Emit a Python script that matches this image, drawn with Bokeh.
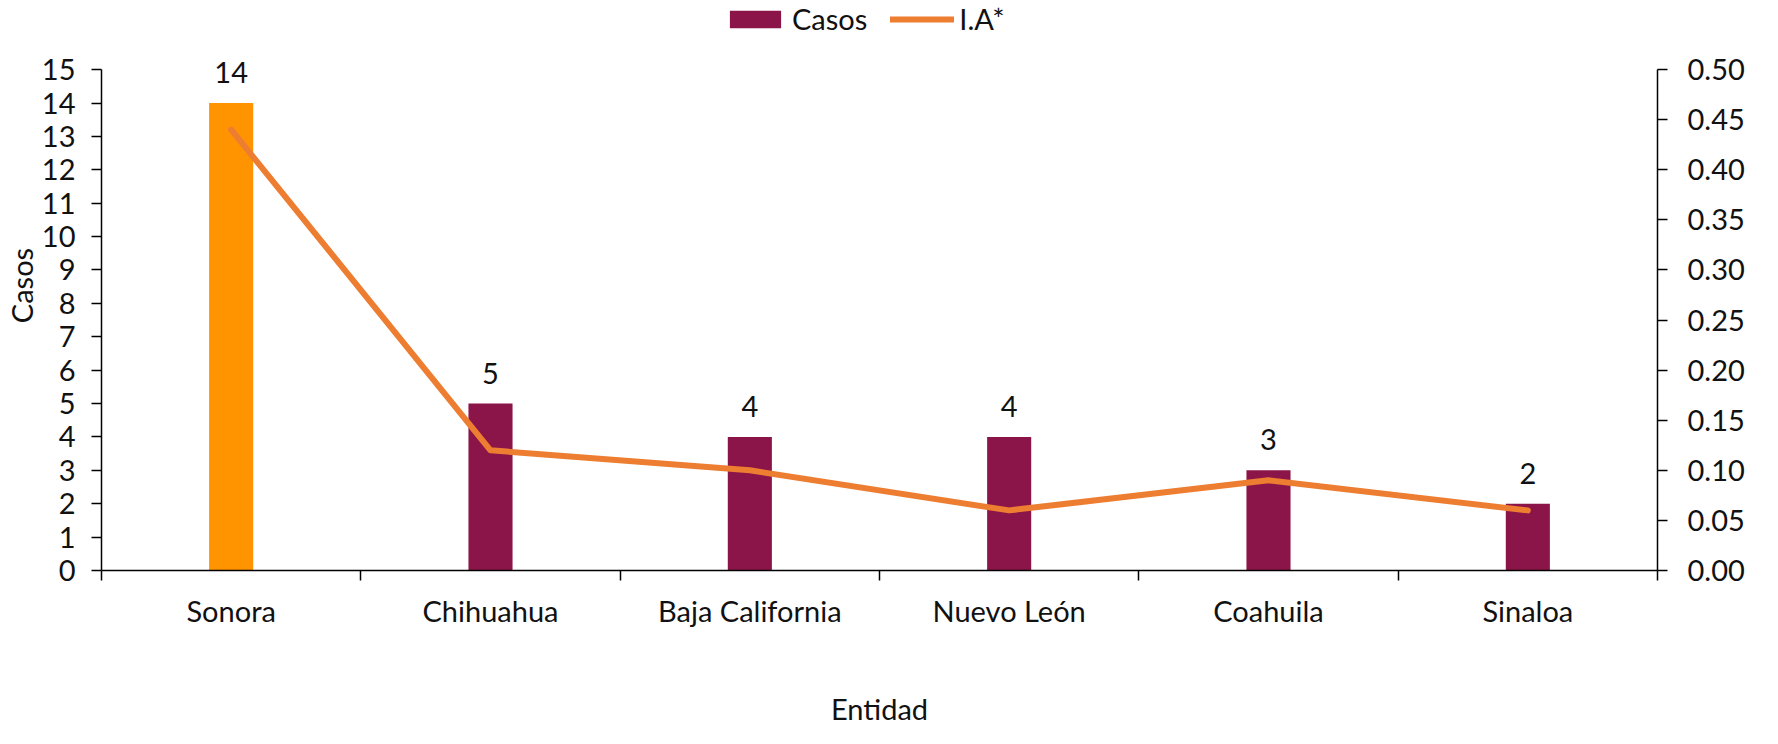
from bokeh.plotting import figure
from bokeh.models import (ColumnDataSource, Range1d, LinearAxis,
                          FixedTicker, NumeralTickFormatter, Legend, LegendItem, LabelSet)
from bokeh.core.properties import value
from bokeh.embed import file_html
from bokeh.resources import INLINE

entidades = ["Sonora", "Chihuahua", "Baja California", "Nuevo León", "Coahuila", "Sinaloa"]
casos = [14, 5, 4, 4, 3, 2]
ia = [0.44, 0.12, 0.10, 0.06, 0.09, 0.06]
bar_colors = ["#FF9400", "#8B1449", "#8B1449", "#8B1449", "#8B1449", "#8B1449"]
left_ticks = list(range(0, 16))
right_ticks = [0.0, 0.05, 0.10, 0.15, 0.20, 0.25, 0.30, 0.35, 0.40, 0.45, 0.50]
casos_max = 15
ia_max = 0.5

n = len(entidades)
xpos = [i + 0.5 for i in range(n)]          # category centres on a 0..n scale
boundary_ticks = list(range(0, n + 1))      # category boundaries

FONT = "Lato"
FS = "29px"

# head room above the axes' top (for the legend and the top data label)
head = 1.138
src = ColumnDataSource(dict(x=xpos, casos=casos, ia=ia, color=bar_colors,
                            lab=[str(c) for c in casos]))

p = figure(width=1762, height=728, x_range=Range1d(0, n),
           y_range=Range1d(0, casos_max * head), output_backend="svg", toolbar_location=None,
           x_axis_location=None, y_axis_location="left",
           min_border_left=93, min_border_right=105, min_border_top=0, min_border_bottom=0)
p.outline_line_color = None
p.xgrid.visible = False
p.ygrid.visible = False
p.background_fill_color = "white"
p.border_fill_color = "white"

p.extra_y_ranges = {"ia": Range1d(0, ia_max * head)}

bars = p.vbar(x="x", top="casos", width=0.17, source=src, fill_color="color", line_color=None)
line = p.line(x="x", y="ia", source=src, y_range_name="ia", line_color="#ED7D31",
              line_width=6, line_cap="round", line_join="round")

labels = LabelSet(x="x", y="casos", text="lab", source=src, text_align="center",
                  text_baseline="alphabetic", y_offset=20, text_font=value(FONT),
                  text_font_size=value(FS), text_color="#111111")
p.add_layout(labels)

def style_axis(ax):
    ax.axis_line_color = "black"
    ax.axis_line_width = 1.5
    ax.major_tick_line_color = "black"
    ax.major_tick_line_width = 1.5
    ax.major_tick_in = 0
    ax.major_tick_out = 10
    ax.minor_tick_line_color = None
    ax.major_label_text_font = FONT
    ax.major_label_text_font_size = FS
    ax.major_label_text_color = "#111111"
    ax.axis_label_text_font = FONT
    ax.axis_label_text_font_size = FS
    ax.axis_label_text_font_style = "normal"
    ax.axis_label_text_color = "#111111"

yl = p.yaxis[0]
style_axis(yl)
yl.ticker = FixedTicker(ticks=left_ticks)
yl.bounds = (0, casos_max)
yl.major_label_standoff = 16
yl.axis_label = "Casos"
yl.axis_label_standoff = 0

yr = LinearAxis(y_range_name="ia", ticker=FixedTicker(ticks=right_ticks),
                formatter=NumeralTickFormatter(format="0.00"), bounds=(0, ia_max))
style_axis(yr)
yr.major_label_standoff = 20
p.add_layout(yr, "right")

xc = LinearAxis(ticker=FixedTicker(ticks=xpos, minor_ticks=boundary_ticks),
                major_label_overrides={x: name for x, name in zip(xpos, entidades)})
style_axis(xc)
xc.major_tick_line_color = None
xc.major_tick_out = 0
xc.minor_tick_line_color = "black"
xc.minor_tick_line_width = 1.5
xc.minor_tick_in = 0
xc.minor_tick_out = 10
xc.major_label_standoff = 12
xc.axis_label = "Entidad"
xc.axis_label_standoff = 60
p.add_layout(xc, "below")

legend = Legend(items=[LegendItem(label="Casos", renderers=[bars], index=1),
                       LegendItem(label="I.A*", renderers=[line])],
                orientation="horizontal", location=(622, 534),
                glyph_width=64, glyph_height=22, label_standoff=5, spacing=23,
                label_text_font=FONT, label_text_font_size=FS, label_text_color="#111111",
                padding=0, margin=0, border_line_color=None, background_fill_alpha=0)
p.add_layout(legend)

open("out.html", "w").write(file_html(p, INLINE))
